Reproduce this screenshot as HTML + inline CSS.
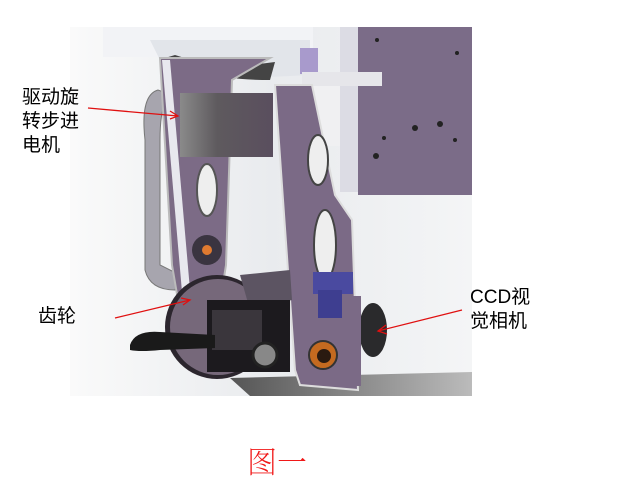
<!DOCTYPE html>
<html><head><meta charset="utf-8"><style>
html,body{margin:0;padding:0;background:#fff;width:639px;height:502px;overflow:hidden;position:relative}
.t{position:absolute;font-family:"Liberation Sans","Noto Sans CJK SC",sans-serif;font-size:19px;line-height:24px;color:#000}
</style></head><body>
<svg width="639" height="502" style="position:absolute;left:0;top:0">
<defs>
<linearGradient id="bg" x1="0" x2="1" y1="0" y2="0"><stop offset="0" stop-color="#fafafa"/><stop offset="0.5" stop-color="#e9ebee"/><stop offset="1" stop-color="#f4f5f6"/></linearGradient>
<linearGradient id="mot" x1="0" x2="1"><stop offset="0" stop-color="#8a8a8a"/><stop offset="0.4" stop-color="#5e5a5e"/><stop offset="1" stop-color="#5a4e5e"/></linearGradient>
<linearGradient id="fl" x1="0" x2="1"><stop offset="0" stop-color="#555"/><stop offset="1" stop-color="#bbb"/></linearGradient>
</defs>
<rect x="70" y="27" width="402" height="369" fill="url(#bg)"/>
<polygon points="230,378 472,372 472,396 250,396" fill="url(#fl)"/>
<!-- top housing -->
<rect x="103" y="27" width="210" height="30" fill="#f2f3f6"/>
<path d="M150,40 L310,40 L310,75 L250,78 Q200,78 160,60 Z" fill="#e2e5ea"/>
<path d="M165,58 Q200,80 270,80 L275,62 Q220,70 175,55Z" fill="#444"/>
<!-- right box -->
<rect x="358" y="27" width="114" height="168" fill="#7b6c88"/>
<rect x="340" y="27" width="18" height="165" fill="#dcdce4"/>
<rect x="300" y="48" width="18" height="26" fill="#a89acc"/>
<rect x="302" y="72" width="80" height="14" fill="#e6e6ea"/>
<rect x="310" y="86" width="30" height="60" fill="#f0f0f2"/>
<g fill="#222"><circle cx="376" cy="156" r="3"/><circle cx="415" cy="128" r="3"/><circle cx="440" cy="124" r="3"/><circle cx="384" cy="138" r="2"/><circle cx="455" cy="140" r="2"/><circle cx="377" cy="40" r="2"/><circle cx="457" cy="53" r="2"/></g>
<!-- belt left -->
<path d="M158,90 Q140,95 145,140 L145,270 Q150,290 175,290 L180,275 L160,265 L160,140 Q160,100 172,95Z" fill="#a7a5ae" stroke="#777" stroke-width="1"/>
<!-- left arm -->
<polygon points="160,58 270,58 232,80 226,265 222,290 178,300 172,265" fill="#7c6b86" stroke="#bbb" stroke-width="2"/>
<polygon points="162,60 170,60 190,290 182,292" fill="#e8e8ee"/>
<!-- motor -->
<rect x="180" y="93" width="93" height="64" fill="url(#mot)"/>
<ellipse cx="207" cy="190" rx="10" ry="26" fill="#eee" stroke="#555" stroke-width="2"/>
<!-- right arm -->
<polygon points="275,85 312,85 335,195 352,220 358,390 300,385 295,370 283,200" fill="#7b6a86" stroke="#ddd" stroke-width="2"/>
<ellipse cx="325" cy="245" rx="11" ry="35" fill="#eee" stroke="#444" stroke-width="2"/>
<ellipse cx="318" cy="160" rx="10" ry="25" fill="#eee" stroke="#444" stroke-width="2"/>
<!-- small gear -->
<circle cx="207" cy="250" r="15" fill="#3a3440"/><circle cx="207" cy="250" r="5" fill="#e07a30"/>
<!-- big gear -->
<circle cx="217" cy="327" r="52" fill="#2c262e"/>
<circle cx="218" cy="327" r="48" fill="#76687a"/>
<!-- bracket -->
<polygon points="240,275 290,270 292,300 250,310" fill="#5c5462"/>
<rect x="207" y="300" width="83" height="72" fill="#1c1a1e"/>
<rect x="212" y="310" width="50" height="40" fill="#3a363c"/>
<circle cx="265" cy="355" r="12" fill="#888" stroke="#222" stroke-width="3"/>
<path d="M130,345 Q135,330 160,332 L215,335 L215,348 L160,350 Q140,352 130,350Z" fill="#1a1a1a"/>
<!-- camera -->
<ellipse cx="373" cy="330" rx="14" ry="27" fill="#2a2a2c"/>
<rect x="345" y="296" width="16" height="90" fill="#7b6a86"/>
<!-- blue sensor -->
<rect x="313" y="272" width="40" height="22" fill="#4a4aa0"/>
<rect x="318" y="290" width="24" height="28" fill="#3e3e90"/>
<!-- bushing -->
<circle cx="323" cy="355" r="14" fill="#c46a20" stroke="#333" stroke-width="2"/>
<circle cx="324" cy="356" r="7" fill="#2a1a10"/>
<!-- arrows -->
<g stroke="#e01010" stroke-width="1.3" fill="none">
<line x1="88" y1="108" x2="178" y2="116"/><polyline points="170,111 178,116 170,119"/>
<line x1="115" y1="318" x2="190" y2="300"/><polyline points="181,298 190,300 183,305"/>
<line x1="462" y1="310" x2="378" y2="331"/><polyline points="386,325 378,331 387,334"/>
</g>
</svg>
<div class="t" style="left:22px;top:86px">驱动旋<br>转步进<br>电机</div>
<div class="t" style="left:38px;top:305px">齿轮</div>
<div class="t" style="left:470px;top:286px">CCD视<br>觉相机</div>
<div style="position:absolute;left:247px;top:442px;font-family:'Noto Serif CJK SC',serif;font-size:30px;color:#f01818;font-weight:200;line-height:36px">图一</div>
</body></html>
